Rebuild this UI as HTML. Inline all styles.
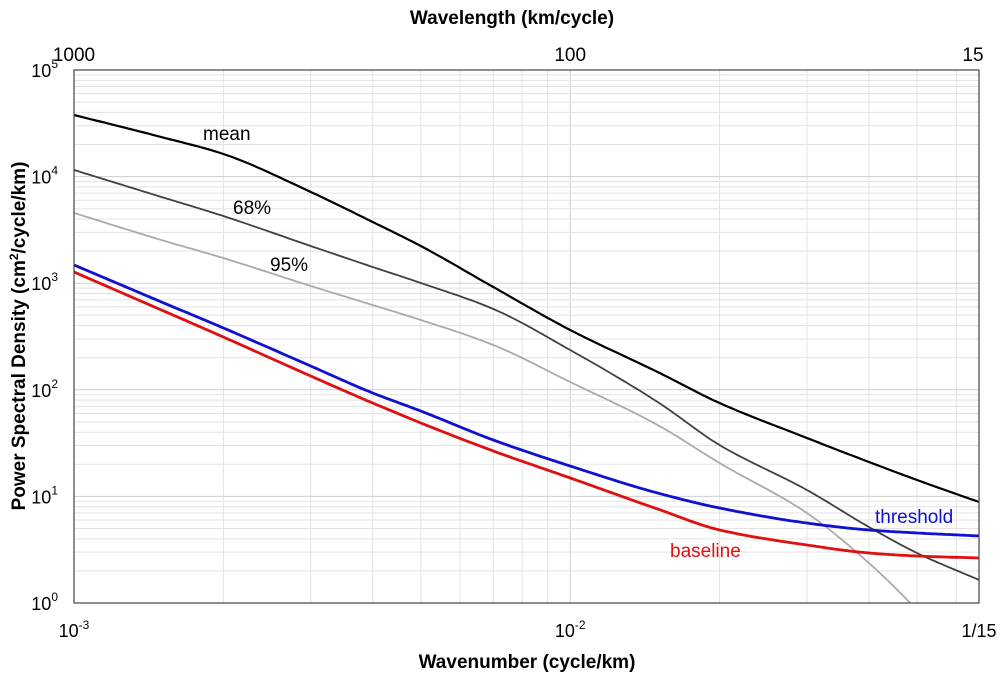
<!DOCTYPE html>
<html><head><meta charset="utf-8"><style>
body{margin:0;background:#fff;font-family:"Liberation Sans",sans-serif}
</style></head><body>
<svg id="chart" width="1000" height="680" xmlns="http://www.w3.org/2000/svg" font-family="Liberation Sans, sans-serif">
<g id="grid"></g>
<g id="series"></g>
<rect x="74" y="70" width="905" height="533" fill="none" stroke="#444" stroke-width="1.2"/>
<g id="labels"></g>
<text x="512" y="24" font-size="19" font-weight="bold" text-anchor="middle">Wavelength (km/cycle)</text>
<text x="527" y="668" font-size="19" font-weight="bold" text-anchor="middle">Wavenumber (cycle/km)</text>
<text transform="translate(25,336) rotate(-90)" font-size="19" font-weight="bold" text-anchor="middle">Power Spectral Density (cm<tspan font-size="12" dy="-7">2</tspan><tspan dy="7">/cycle/km)</tspan></text>
<text x="203" y="140" font-size="19">mean</text>
<text x="233" y="214" font-size="19">68%</text>
<text x="270" y="271" font-size="19">95%</text>
<text x="875" y="523" font-size="19" fill="#1010d0">threshold</text>
<text x="670" y="557" font-size="19" fill="#e01010">baseline</text>
</svg>
<script>
const xs = [0.001,0.0015,0.002,0.003,0.004,0.005,0.007,0.01,0.015,0.02,0.03,0.04,0.05,0.0667];
const meanLog = [4.578,4.371,4.212,3.856,3.574,3.349,2.964,2.561,2.167,1.876,1.548,1.323,1.154,0.947];
const p68Log = [4.062,3.809,3.630,3.349,3.152,3.002,2.758,2.373,1.886,1.482,1.060,0.713,0.469,0.216];
const p95Log = [3.659,3.405,3.236,2.974,2.795,2.655,2.420,2.073,1.670,1.313,0.844,0.375,-0.066,-0.722];
const thrLog = [3.171,2.824,2.580,2.223,1.970,1.801,1.529,1.285,1.032,0.891,0.750,0.685,0.657,0.629];
const baseLog = [3.105,2.749,2.495,2.129,1.876,1.689,1.426,1.173,0.882,0.685,0.544,0.469,0.441,0.422];
const xTicks = [0.001,0.01,1/15];
const xTickLabels = ["10","10","1/15"];
const xTickExp = ["-3","-2",""];
const topTickLabels = ["1000","100","15"];
const yTicks = [0,1,2,3,4,5];

const L=74,R=979,T=70,B=603,xmin=Math.log10(0.001),xmax=Math.log10(1/15);
const X=v=>L+(Math.log10(v)-xmin)/(xmax-xmin)*(R-L);
const XL=lv=>L+(lv-xmin)/(xmax-xmin)*(R-L);
const Y=lv=>B-(lv-0)/5*(B-T);
const NS="http://www.w3.org/2000/svg";
function mk(t,a,p){const e=document.createElementNS(NS,t);for(const k in a)e.setAttribute(k,a[k]);p.appendChild(e);return e;}
const g=document.getElementById('grid');
for(let d=-3;d<=-2;d++)for(let m=1;m<10;m++){const v=m*Math.pow(10,d);if(v>1/15)continue;const x=X(v);
 const l=mk('line',{x1:x,x2:x,y1:T,y2:B,stroke:m==1?'#cfcfcf':'#e3e3e3','stroke-width':1},g);
 
 }
for(let d=0;d<5;d++)for(let m=1;m<10;m++){const y=Y(d+Math.log10(m));
 const l=mk('line',{x1:L,x2:R,y1:y,y2:y,stroke:m==1?'#cfcfcf':'#e3e3e3','stroke-width':1},g);
 
 }
function interp(xv,yv){
 const n=xv.length,h=[],dl=[],m=new Array(n);
 for(let i=0;i<n-1;i++){h[i]=xv[i+1]-xv[i];dl[i]=(yv[i+1]-yv[i])/h[i];}
 m[0]=dl[0];m[n-1]=dl[n-2];
 for(let i=1;i<n-1;i++){ if(dl[i-1]*dl[i]<=0)m[i]=0; else {const w1=2*h[i]+h[i-1],w2=h[i]+2*h[i-1];m[i]=(w1+w2)/(w1/dl[i-1]+w2/dl[i]);}}
 const out=[];
 for(let i=0;i<n-1;i++){for(let k=0;k<20;k++){const t=k/20,t2=t*t,t3=t2*t;
  const y=(2*t3-3*t2+1)*yv[i]+(t3-2*t2+t)*h[i]*m[i]+(-2*t3+3*t2)*yv[i+1]+(t3-t2)*h[i]*m[i+1];
  out.push([xv[i]+t*h[i],y]);}}
 out.push([xv[n-1],yv[n-1]]);return out;}
function path(arr,color,w,name){
 const lx=xs.map(v=>Math.log10(v));
 const pts=interp(lx,arr).map(p=>[XL(p[0]).toFixed(1),Y(p[1]).toFixed(1)]);
 const d='M'+pts.map(p=>p.join(',')).join(' L');
 const e=mk('path',{d:d,fill:'none',stroke:color,'stroke-width':w,'stroke-linejoin':'round','clip-path':'url(#clip)'},document.getElementById('series'));
 
 }
const defs=mk('defs',{},document.getElementById('chart'));
const cp=mk('clipPath',{id:'clip'},defs);mk('rect',{x:L,y:T,width:R-L,height:B-T},cp);
path(p95Log,'#aaaaaa',1.8,'line-95');
path(p68Log,'#404040',1.8,'line-68');
path(meanLog,'#000',2.2,'line-mean');
path(baseLog,'#e01010',2.8,'line-baseline');
path(thrLog,'#1010d0',2.8,'line-threshold');
const lb=document.getElementById('labels');
xTicks.forEach((v,i)=>{const x=X(v);
 const t=mk('text',{x:x,y:637,'font-size':18,'text-anchor':'middle'},lb);
 
 
 t.textContent=xTickLabels[i];
 if(xTickExp[i]){const s=mk('tspan',{'font-size':12,dy:-8},t);s.textContent=xTickExp[i];}
 const u=mk('text',{x:i==2?x-6:x,y:61,'font-size':19,'text-anchor':'middle'},lb);
 
 
 u.textContent=topTickLabels[i];});
yTicks.forEach(v=>{const y=Y(v);
 const t=mk('text',{x:58,y:y+7,'font-size':18,'text-anchor':'end'},lb);
 
 
 t.textContent='10';
 const s=mk('tspan',{'font-size':12,dy:-9},t);s.textContent=String(v);});
</script>
</body></html>
